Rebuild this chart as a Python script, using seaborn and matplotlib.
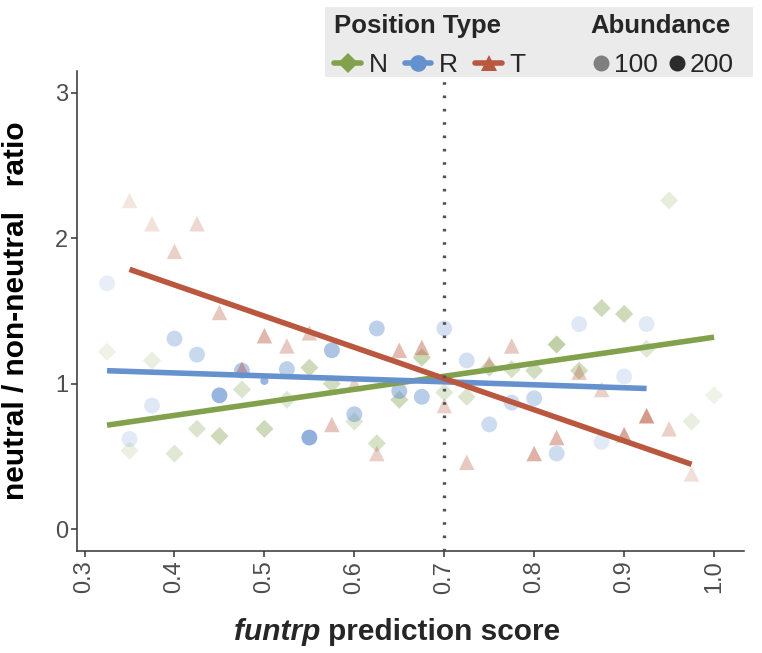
import matplotlib
matplotlib.use("Agg")
import matplotlib.pyplot as plt
from matplotlib.lines import Line2D
from matplotlib.patches import Rectangle
import numpy as np
import pandas as pd
import seaborn as sns

# ---- data ----
n_score = [0.325, 0.35, 0.375, 0.4, 0.425, 0.45, 0.475, 0.5, 0.525, 0.55, 0.575, 0.6, 0.625, 0.65,
           0.675, 0.7, 0.725, 0.75, 0.775, 0.8, 0.825, 0.85, 0.875, 0.9, 0.925, 0.95, 0.975, 1.0]
n_ratio = [1.22, 0.54, 1.16, 0.52, 0.69, 0.64, 0.96, 0.69, 0.89, 1.11, 1.00, 0.74, 0.59, 0.89,
           1.18, 0.94, 0.91, 1.11, 1.10, 1.09, 1.27, 1.09, 1.52, 1.48, 1.24, 2.26, 0.74, 0.92]
n_abund = [8, 15, 20, 40, 50, 80, 50, 80, 40, 80, 70, 40, 60, 80,
           90, 40, 50, 70, 60, 70, 110, 70, 80, 80, 40, 25, 20, 8]

r_score = [0.325, 0.35, 0.375, 0.4, 0.425, 0.45, 0.475, 0.5, 0.525, 0.55, 0.575, 0.6, 0.625,
           0.65, 0.675, 0.7, 0.725, 0.75, 0.775, 0.8, 0.825, 0.85, 0.875, 0.9, 0.925]
r_ratio = [1.69, 0.62, 0.85, 1.31, 1.20, 0.92, 1.09, 1.02, 1.10, 0.63, 1.23, 0.79, 1.38,
           0.95, 0.91, 1.38, 1.16, 0.72, 0.87, 0.90, 0.52, 1.41, 0.60, 1.05, 1.41]
r_abund = [15, 25, 30, 70, 70, 160, 110, 160, 90, 170, 120, 100, 90,
           110, 100, 50, 50, 60, 60, 70, 60, 30, 25, 25, 25]

t_score = [0.35, 0.375, 0.4, 0.425, 0.45, 0.475, 0.5, 0.525, 0.55, 0.575, 0.6, 0.625, 0.65,
           0.675, 0.7, 0.725, 0.75, 0.775, 0.8, 0.825, 0.85, 0.875, 0.9, 0.925, 0.95, 0.975]
t_ratio = [2.26, 2.10, 1.91, 2.10, 1.49, 1.10, 1.33, 1.26, 1.35, 0.72, 1.00, 0.52, 1.23,
           1.25, 0.85, 0.46, 1.14, 1.26, 0.52, 0.63, 1.08, 0.96, 0.65, 0.78, 0.69, 0.38]
t_abund = [15, 20, 50, 35, 60, 90, 90, 60, 60, 70, 50, 50, 80,
           90, 50, 60, 60, 60, 100, 90, 60, 50, 120, 140, 50, 25]

pos_types = ["N", "R", "T"]
legend_abund = [100, 200]
cutoff = 0.7

# ---- style ----
colors = {"N": "#82A14C", "R": "#6592CE", "T": "#B9573F"}
markers = {"N": "D", "R": "o", "T": "^"}
msizes = {"N": 85, "R": 130, "T": 125}
ABUND_MIN, ABUND_MAX = 0, 250


def abund_alpha(a):
    a = np.asarray(a, dtype=float)
    return 0.1 + 0.9 * (a - ABUND_MIN) / (ABUND_MAX - ABUND_MIN)


df = pd.concat([
    pd.DataFrame({"score": n_score, "ratio": n_ratio, "abundance": n_abund, "type": "N"}),
    pd.DataFrame({"score": r_score, "ratio": r_ratio, "abundance": r_abund, "type": "R"}),
    pd.DataFrame({"score": t_score, "ratio": t_ratio, "abundance": t_abund, "type": "T"}),
], ignore_index=True)

sns.set_theme(style="ticks")
plt.rcParams["font.family"] = ["Liberation Sans", "DejaVu Sans"]

fig = plt.figure(figsize=(7.62, 6.53), dpi=100)
ax = fig.add_axes([76.7 / 762, 1 - 551 / 653, (744.4 - 76.7) / 762, (551 - 71) / 653])

for pt in pos_types:
    sub = df[df["type"] == pt].reset_index(drop=True)
    sns.scatterplot(data=sub, x="score", y="ratio", color=colors[pt], marker=markers[pt],
                    s=msizes[pt], linewidth=0, legend=False, ax=ax, zorder=2)
    coll = ax.collections[-1]
    fc = np.tile(matplotlib.colors.to_rgba(colors[pt]), (len(sub), 1))
    fc[:, 3] = abund_alpha(sub["abundance"])
    coll.set_alpha(None)
    coll.set_facecolors(fc)
    if pt == "R":
        # one bin drawn with a smaller point in the original
        sizes = np.full(len(sub), msizes[pt], dtype=float)
        sizes[7] = 35
        coll.set_sizes(sizes)

for pt in pos_types:
    sub = df[df["type"] == pt]
    sns.regplot(data=sub, x="score", y="ratio", scatter=False, ci=None, color=colors[pt],
                line_kws={"lw": 4, "solid_capstyle": "butt", "zorder": 3}, ax=ax)

ax.axvline(cutoff, color="#555555", lw=2.4, linestyle=(0, (0.8, 3.2)), zorder=4)

ax.set_xlim(0.29125, 1.03375)
ax.set_ylim(-0.15, 3.15)
ax.set_xticks([0.3, 0.4, 0.5, 0.6, 0.7, 0.8, 0.9, 1.0])
ax.set_xticklabels(["0.3", "0.4", "0.5", "0.6", "0.7", "0.8", "0.9", "1.0"], rotation=90)
ax.set_yticks([0, 1, 2, 3])
ax.tick_params(labelsize=17, labelcolor="#4D4D4D", color="#333333", length=4, width=1.1, pad=3)
ax.tick_params(axis="y", pad=2)
for side in ["top", "right"]:
    ax.spines[side].set_visible(False)
for side in ["left", "bottom"]:
    ax.spines[side].set_color("#333333")
    ax.spines[side].set_linewidth(1.1)

ax.set_xlabel("")
ax.set_ylabel("neutral / non-neutral   ratio", fontsize=21.5, fontweight="bold", color="black")
ax.yaxis.set_label_coords(-(76.7 - 30) / 667.7, 0.5)

# x label with italic tool name
fig.canvas.draw()
rend = fig.canvas.get_renderer()
ylab = 1 - 632 / 653
t1 = fig.text(0, ylab, "funtrp ", fontsize=21.5, fontweight="bold", style="italic", va="center")
t2 = fig.text(0, ylab, "prediction score", fontsize=21.5, fontweight="bold", va="center")
w1 = t1.get_window_extent(rend).width / fig.bbox.width
w2 = t2.get_window_extent(rend).width / fig.bbox.width
xc = 397 / 762
t1.set_x(xc - (w1 + w2) / 2)
t2.set_x(xc - (w1 + w2) / 2 + w1)

# legend panel
fig.patches.append(Rectangle((325 / 762, 1 - 77 / 653), (753 - 325) / 762, 70 / 653,
                             transform=fig.transFigure, facecolor="#EBEBEB", edgecolor="none", zorder=5))

type_handles = [Line2D([0], [0], color=colors[pt], lw=4, marker=markers[pt],
                       markersize=12 if pt != "N" else 10.5, markeredgewidth=0) for pt in pos_types]
leg1 = fig.legend(type_handles, pos_types, ncol=3, title="Position Type", loc="upper left",
                  bbox_to_anchor=(316 / 762, 1 + 4 / 653), frameon=False, alignment="left",
                  handlelength=1.0, handletextpad=0.3, columnspacing=0.65, fontsize=19,
                  title_fontproperties={"weight": "bold", "size": 18.5}, borderpad=0.2,
                  labelspacing=0.55)
leg1.set_zorder(6)

abund_handles = [Line2D([0], [0], lw=0, marker="o", markersize=11.5, markeredgewidth=0,
                        color=(0, 0, 0, float(abund_alpha(a)))) for a in legend_abund]
leg2 = fig.legend(abund_handles, [str(a) for a in legend_abund], ncol=2, title="Abundance",
                  loc="upper left", bbox_to_anchor=(572 / 762, 1 + 4 / 653), frameon=False,
                  alignment="left", handlelength=0.8, handletextpad=0.1, columnspacing=0.3,
                  fontsize=19, title_fontproperties={"weight": "bold", "size": 18.5}, borderpad=0.2,
                  labelspacing=0.55)
leg2.set_zorder(6)

fig.savefig("out.png", dpi=100)
